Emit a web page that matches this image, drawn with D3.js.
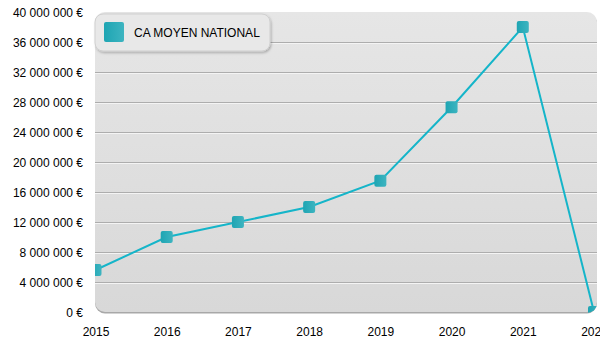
<!DOCTYPE html>
<html><head><meta charset="utf-8">
<script src="https://cdn.jsdelivr.net/npm/d3@7/dist/d3.min.js"></script>
<style>body{margin:0;background:#fff}svg{display:block}</style>
</head><body>
<svg id="c" width="600" height="350"></svg>
<script>
const years = ["2015","2016","2017","2018","2019","2020","2021","2022"];
const values = [5600000, 10000000, 12000000, 14000000, 17500000, 27300000, 38000000, 0];
const yTicks = [0,4000000,8000000,12000000,16000000,20000000,24000000,28000000,32000000,36000000,40000000];
const seriesName = "CA MOYEN NATIONAL";

const svg = d3.select("#c");
const L = 95, R = 597, T = 12, B = 312;
const x = d3.scalePoint().domain(years).range([L + 0.5, 594]);
const y = d3.scaleLinear().domain([0, 40000000]).range([B, T]);
const defs = svg.append("defs");

const bg = defs.append("linearGradient").attr("id","bg").attr("x1",0).attr("y1",0).attr("x2",0).attr("y2",1);
bg.append("stop").attr("offset","0%").attr("stop-color","#e6e6e6");
bg.append("stop").attr("offset","100%").attr("stop-color","#d8d8d8");
const mg = defs.append("linearGradient").attr("id","mg").attr("x1",0).attr("y1",0).attr("x2",1).attr("y2",0);
mg.append("stop").attr("offset","0%").attr("stop-color","#1ea5b3");
mg.append("stop").attr("offset","100%").attr("stop-color","#3db4c0");
defs.append("clipPath").attr("id","clip").append("rect")
  .attr("x",L).attr("y",T).attr("width",R-L).attr("height",B-T+1).attr("rx",10);
const sh = defs.append("filter").attr("id","sh").attr("x","-10%").attr("y","-20%").attr("width","130%").attr("height","160%");
sh.append("feDropShadow").attr("dx",1).attr("dy",1.5).attr("stdDeviation",1.2).attr("flood-color","#000").attr("flood-opacity",0.25);

// panel
svg.append("rect").attr("x",L).attr("y",T+1.5).attr("width",R-L).attr("height",B-T).attr("rx",10).attr("fill","#a8a8a8");
svg.append("rect").attr("x",L).attr("y",T).attr("width",R-L).attr("height",B-T).attr("rx",10).attr("fill","url(#bg)");

const g = svg.append("g").attr("clip-path","url(#clip)");
// grid
yTicks.filter(d => d > 0 && d < 40000000).forEach(d => {
  g.append("line").attr("x1",L).attr("x2",R).attr("y1",Math.round(y(d))+0.5).attr("y2",Math.round(y(d))+0.5).attr("stroke","#adadad");
  g.append("line").attr("x1",L).attr("x2",R).attr("y1",Math.round(y(d))+1.5).attr("y2",Math.round(y(d))+1.5).attr("stroke","#f4f4f4");
});

// line
g.append("path").datum(values.map((v,i)=>[years[i],v]))
  .attr("fill","none").attr("stroke","#15b5c9").attr("stroke-width",2)
  .attr("d", d3.line().x(d=>x(d[0])).y(d=>y(d[1])));
g.selectAll("rect.m").data(values.map((v,i)=>[years[i],v])).join("rect").attr("class","m")
  .attr("x",d=>x(d[0])-6).attr("y",d=>y(d[1])-6).attr("width",12).attr("height",12).attr("rx",2)
  .attr("fill","url(#mg)");

// y axis labels
const yAxis = d3.axisLeft(y).tickValues(yTicks).tickSize(0).tickPadding(0)
  .tickFormat(d => d3.format(",")(d).replace(/,/g," ") + " €");
const ya = svg.append("g").attr("transform",`translate(${L-12},1)`).call(yAxis);
ya.select(".domain").remove();
ya.selectAll("text").attr("font-family","Arial, 'Liberation Sans', sans-serif").attr("font-size",12).attr("fill","#000");

// x axis labels
const xAxis = d3.axisBottom(x).tickSize(0).tickPadding(0);
const xa = svg.append("g").attr("transform",`translate(0,${B+15})`).call(xAxis);
xa.select(".domain").remove();
xa.selectAll("text").attr("font-family","Arial, 'Liberation Sans', sans-serif").attr("font-size",12).attr("fill","#000");

// legend
const lg = svg.append("g");
lg.append("rect").attr("x",95).attr("y",14).attr("width",175).attr("height",37).attr("rx",8)
  .attr("fill","#e8e8e8").attr("stroke","#cfcfcf").attr("filter","url(#sh)");
lg.append("rect").attr("x",104).attr("y",22).attr("width",20).attr("height",20).attr("rx",2).attr("fill","url(#mg)");
lg.append("text").attr("x",134).attr("y",36.5).text(seriesName)
  .attr("font-family","Arial, 'Liberation Sans', sans-serif").attr("font-size",12).attr("fill","#000");
</script>
</body></html>
